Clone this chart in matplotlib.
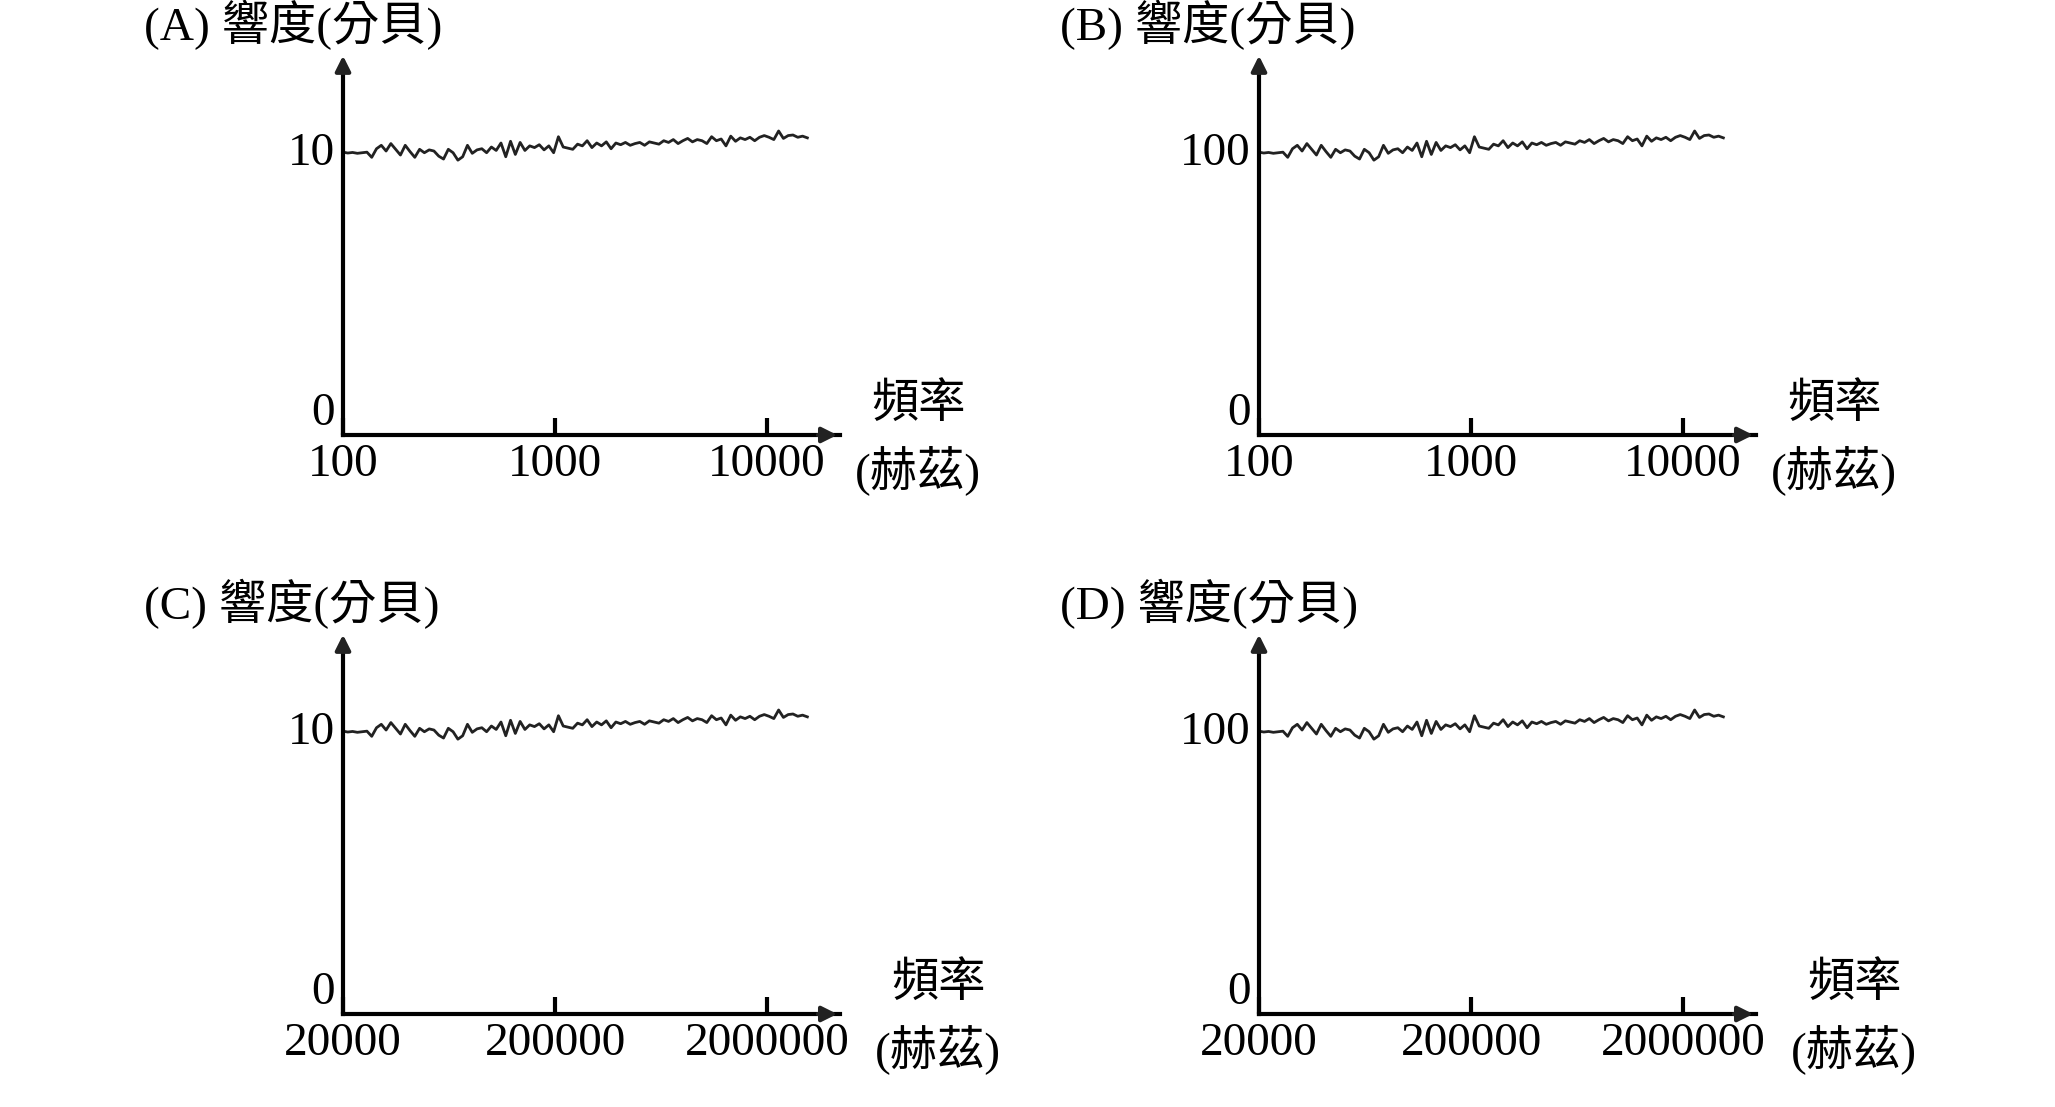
import numpy as np
import matplotlib
matplotlib.use("Agg")
import matplotlib.pyplot as plt

# noisy response curve (level for the "10" panels)
curve = [9.88, 9.85, 9.87, 9.84, 9.86, 9.88, 9.70, 10.00, 10.12, 9.92, 10.18, 9.98, 9.78, 10.12, 9.90, 9.70,
         9.98, 9.86, 9.96, 9.92, 9.74, 9.64, 9.98, 9.86, 9.60, 9.72, 10.12, 9.84, 9.96, 10.00, 9.86, 10.06,
         9.94, 10.20, 9.72, 10.26, 9.80, 10.22, 9.94, 10.10, 10.04, 10.14, 9.96, 10.10, 9.86, 10.42, 10.06, 10.02,
         9.98, 10.16, 10.10, 10.28, 10.04, 10.20, 10.10, 10.24, 10.00, 10.20, 10.14, 10.22, 10.12, 10.18,
         10.22, 10.12, 10.24, 10.20, 10.16, 10.28, 10.22, 10.32, 10.18, 10.28, 10.36, 10.24, 10.32, 10.28,
         10.18, 10.42, 10.28, 10.34, 10.10, 10.44, 10.26, 10.38, 10.32, 10.40, 10.28, 10.40, 10.46, 10.40,
         10.32, 10.62, 10.36, 10.46, 10.48, 10.40, 10.44, 10.38]

panels = ["A", "B", "C", "D"]
y_scale = [1, 10, 1, 10]
x_start = [100, 100, 20000, 20000]
x_ticks = [[100, 1000, 10000], [100, 1000, 10000], [20000, 200000, 2000000], [20000, 200000, 2000000]]
y_top_label = ["10", "100", "10", "100"]

W, H = 2055, 1107
fig = plt.figure(figsize=(W / 100, H / 100), dpi=100)
serif = ['Liberation Serif', 'Noto Sans CJK TC']
fs = 34

origins = [(343, 435), (1259, 435), (343, 1014), (1259, 1014)]
ax_w, ax_h = 497, 371
decades = 2.344

for i, p in enumerate(panels):
    ox, oy = origins[i]
    ax = fig.add_axes([ox / W, (H - oy) / H, ax_w / W, ax_h / H])
    ax.set_xscale('log')
    x0 = x_start[i]
    ax.set_xlim(x0, x0 * 10 ** decades)
    ax.set_ylim(0, 12.96 * y_scale[i])
    xs = x0 * 10 ** np.linspace(0, 2.19, len(curve))
    ax.plot(xs, np.array(curve) * y_scale[i], color='#222222', lw=2)
    for s in ['top', 'right']:
        ax.spines[s].set_visible(False)
    for s in ['left', 'bottom']:
        ax.spines[s].set_linewidth(3)
    ax.set_xticks(x_ticks[i])
    ax.set_xticks([], minor=True)
    ax.set_xticklabels([str(t) for t in x_ticks[i]], family=serif, fontsize=fs)
    ax.tick_params(axis='x', direction='in', length=12, width=3, pad=6)
    ax.set_yticks([0, 10 * y_scale[i]])
    ax.set_yticklabels(["0", y_top_label[i]], family=serif, fontsize=fs)
    ax.tick_params(axis='y', length=0, pad=6)
    ax.get_yticklabels()[0].set_va('bottom')
    ax.annotate('', xy=(1.0, 0), xytext=(0.95, 0), xycoords='axes fraction',
                arrowprops=dict(arrowstyle='-|>,head_length=0.9,head_width=0.45', color='#222222', lw=3))
    ax.annotate('', xy=(0, 1.03), xytext=(0, 0.98), xycoords='axes fraction',
                arrowprops=dict(arrowstyle='-|>,head_length=0.9,head_width=0.45', color='#222222', lw=3))
    ax.text(-0.40, 1.105, f"({p}) 響度(分貝)", transform=ax.transAxes, family=serif, fontsize=fs, va='center')
    dx = 0 if i < 2 else 20
    fig.text((ox + 575 + dx) / W, (H - oy + 30) / H, "頻率", family=serif, fontsize=fs, ha='center', va='center')
    fig.text((ox + 575 + dx) / W, (H - oy - 35) / H, "(赫茲)", family=serif, fontsize=fs, ha='center', va='center')

fig.savefig("out.png", dpi=100)
